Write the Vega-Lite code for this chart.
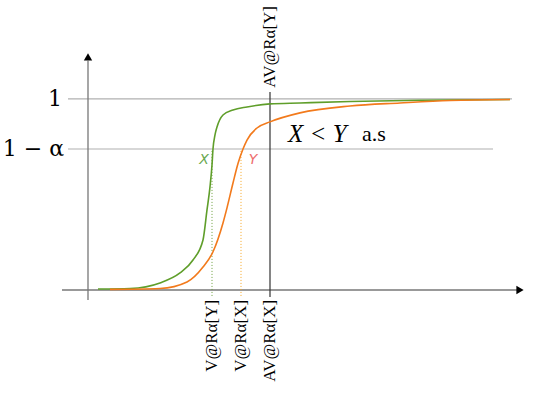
{
  "$schema": "https://vega.github.io/schema/vega-lite/v6.json",
  "width": 540,
  "height": 394,
  "autosize": {"type": "fit", "contains": "padding"},
  "padding": 0,
  "background": "white",
  "config": {"view": {"stroke": null}},
  "datasets": {
    "curves": [
      {"s": "X", "x": 0.25, "y": 0.005}, {"s": "X", "x": 1.05, "y": 0.008}, {"s": "X", "x": 1.8, "y": 0.037},
      {"s": "X", "x": 2.3, "y": 0.089}, {"s": "X", "x": 2.625, "y": 0.157}, {"s": "X", "x": 2.875, "y": 0.262},
      {"s": "X", "x": 2.975, "y": 0.419}, {"s": "X", "x": 3.05, "y": 0.54}, {"s": "X", "x": 3.1, "y": 0.654},
      {"s": "X", "x": 3.125, "y": 0.738}, {"s": "X", "x": 3.175, "y": 0.812}, {"s": "X", "x": 3.225, "y": 0.853},
      {"s": "X", "x": 3.375, "y": 0.916}, {"s": "X", "x": 3.625, "y": 0.942}, {"s": "X", "x": 3.975, "y": 0.958},
      {"s": "X", "x": 4.55, "y": 0.974}, {"s": "X", "x": 5.3, "y": 0.979}, {"s": "X", "x": 6.55, "y": 0.987},
      {"s": "X", "x": 8.3, "y": 0.993}, {"s": "X", "x": 10.55, "y": 0.997},
      {"s": "Y", "x": 0.55, "y": 0.003}, {"s": "Y", "x": 1.8, "y": 0.008}, {"s": "Y", "x": 2.475, "y": 0.042},
      {"s": "Y", "x": 2.875, "y": 0.12}, {"s": "Y", "x": 3.125, "y": 0.2}, {"s": "Y", "x": 3.375, "y": 0.351},
      {"s": "Y", "x": 3.475, "y": 0.43}, {"s": "Y", "x": 3.625, "y": 0.56}, {"s": "Y", "x": 3.75, "y": 0.662},
      {"s": "Y", "x": 3.875, "y": 0.738}, {"s": "Y", "x": 3.975, "y": 0.785},
      {"s": "Y", "x": 4.225, "y": 0.848}, {"s": "Y", "x": 4.55, "y": 0.88}, {"s": "Y", "x": 5.3, "y": 0.927},
      {"s": "Y", "x": 6.55, "y": 0.963}, {"s": "Y", "x": 7.8, "y": 0.979}, {"s": "Y", "x": 9.05, "y": 0.992},
      {"s": "Y", "x": 10.55, "y": 0.997}
    ],
    "hlines": [
      {"x": -0.5, "x2": 10.6, "y": 1},
      {"x": -0.5, "x2": 10.125, "y": 0.738}
    ],
    "vlines": [
      {"k": "X", "x": 3.1, "y": -0.031, "y2": 0.738},
      {"k": "Y", "x": 3.825, "y": -0.031, "y2": 0.738}
    ],
    "avar": [{"x": 4.55, "y": -0.037, "y2": 1.037}],
    "axes": [
      {"x": -0.65, "x2": 10.75, "y": 0, "y2": 0},
      {"x": 0, "x2": 0, "y": -0.052, "y2": 1.2}
    ],
    "arrows": [
      {"x": 10.8, "y": 0, "shape": "triangle-right"},
      {"x": 0, "y": 1.22, "shape": "triangle-up"}
    ],
    "ylabels": [
      {"x": -0.65, "y": 1, "t": "1"},
      {"x": -0.6, "y": 0.738, "t": "1 − α"}
    ],
    "bottom": [
      {"x": 3.1, "y": -0.052, "t": "V@Rα[Y]"},
      {"x": 3.825, "y": -0.052, "t": "V@Rα[X]"},
      {"x": 4.55, "y": -0.052, "t": "AV@Rα[X]"}
    ],
    "top": [{"x": 4.55, "y": 1.058, "t": "AV@Rα[Y]"}],
    "names": [
      {"x": 2.9, "y": 0.68, "t": "X", "s": "X"},
      {"x": 4.125, "y": 0.68, "t": "Y", "s": "Y"}
    ],
    "claim": [{"x": 5.0, "y": 0.8168, "t": "X < Y", "x2": 6.85, "t2": "a.s"}]
  },
  "encoding": {
    "x": {"field": "x", "type": "quantitative", "scale": {"domain": [-2.2, 11.3], "nice": false, "zero": false}, "axis": null},
    "y": {"field": "y", "type": "quantitative", "scale": {"domain": [-0.5445, 1.518], "nice": false, "zero": false}, "axis": null}
  },
  "resolve": {"scale": {"color": "independent"}},
  "layer": [
    {
      "data": {"name": "hlines"},
      "mark": {"type": "rule", "color": "#b0b0b0", "strokeWidth": 1.2},
      "encoding": {"x2": {"field": "x2"}}
    },
    {
      "data": {"name": "axes"},
      "mark": {"type": "rule", "color": "#777777", "strokeWidth": 1.3},
      "encoding": {"x2": {"field": "x2"}, "y2": {"field": "y2"}}
    },
    {
      "data": {"name": "arrows"},
      "mark": {"type": "point", "filled": true, "color": "black", "size": 70, "opacity": 1},
      "encoding": {"shape": {"field": "shape", "type": "nominal", "scale": null}}
    },
    {
      "data": {"name": "vlines"},
      "mark": {"type": "rule", "strokeWidth": 1, "strokeDash": [1, 2]},
      "encoding": {
        "y2": {"field": "y2"},
        "color": {"field": "k", "type": "nominal", "scale": {"domain": ["X", "Y"], "range": ["#6a9e3a", "#f5a623"]}, "legend": null}
      }
    },
    {
      "data": {"name": "avar"},
      "mark": {"type": "rule", "color": "#333333", "strokeWidth": 1.2},
      "encoding": {"y2": {"field": "y2"}}
    },
    {
      "data": {"name": "curves"},
      "mark": {"type": "line", "interpolate": "monotone", "strokeWidth": 1.6},
      "encoding": {
        "color": {"field": "s", "type": "nominal", "scale": {"domain": ["X", "Y"], "range": ["#5f9e2a", "#f27a1c"]}, "legend": null},
        "order": {"field": "x", "type": "quantitative"}
      }
    },
    {
      "data": {"name": "ylabels"},
      "mark": {"type": "text", "align": "right", "baseline": "middle", "font": "DejaVu Serif", "fontSize": 22, "color": "black"},
      "encoding": {"text": {"field": "t"}}
    },
    {
      "data": {"name": "bottom"},
      "mark": {"type": "text", "align": "right", "baseline": "middle", "angle": 270, "font": "Liberation Serif", "fontSize": 17, "color": "black"},
      "encoding": {"text": {"field": "t"}}
    },
    {
      "data": {"name": "top"},
      "mark": {"type": "text", "align": "left", "baseline": "middle", "angle": 270, "font": "Liberation Serif", "fontSize": 17, "color": "black"},
      "encoding": {"text": {"field": "t"}}
    },
    {
      "data": {"name": "names"},
      "mark": {"type": "text", "align": "center", "baseline": "middle", "font": "DejaVu Sans", "fontStyle": "italic", "fontSize": 14},
      "encoding": {
        "text": {"field": "t"},
        "color": {"field": "s", "type": "nominal", "scale": {"domain": ["X", "Y"], "range": ["#6aa84f", "#ee6e6e"]}, "legend": null}
      }
    },
    {
      "data": {"name": "claim"},
      "mark": {"type": "text", "align": "left", "baseline": "middle", "font": "Liberation Serif", "fontStyle": "italic", "fontSize": 25, "color": "black"},
      "encoding": {"text": {"field": "t"}}
    },
    {
      "data": {"name": "claim"},
      "mark": {"type": "text", "align": "left", "baseline": "middle", "font": "Liberation Serif", "fontSize": 22, "color": "black"},
      "encoding": {"x": {"field": "x2", "type": "quantitative"}, "text": {"field": "t2"}}
    }
  ]
}
